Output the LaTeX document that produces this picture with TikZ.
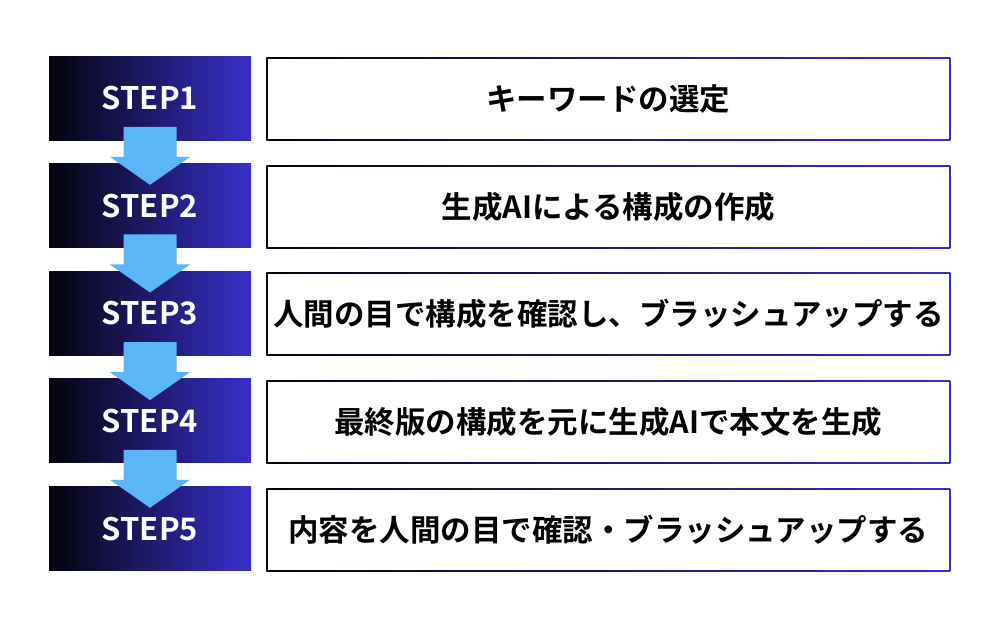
\documentclass[tikz,border=0pt]{standalone}
\usepackage{fontspec}
\usetikzlibrary{positioning,calc}
\newfontfamily\jpfont{Noto Sans CJK JP}[BoldFont={Noto Sans CJK JP Bold}]
\definecolor{stepdark}{RGB}{4,4,12}
\definecolor{stepblue}{RGB}{56,48,202}
\definecolor{arrowblue}{RGB}{90,182,246}

\begin{document}
\begin{tikzpicture}[x=1pt,y=-1pt,
  stepbox/.style={minimum width=202pt,minimum height=84pt,inner sep=0pt,left color=stepdark,right color=stepblue,text=white,font=\jpfont\bfseries\fontsize{31}{31}\selectfont},
  taskframe/.style={minimum width=684pt,minimum height=83pt,inner sep=0pt,left color=stepdark,right color=stepblue},
  taskbox/.style={minimum width=681pt,minimum height=80pt,inner sep=0pt,fill=white,text=black,font=\jpfont\bfseries\fontsize{30.5}{30.5}\selectfont},
  downarrow/.style={fill=arrowblue}]
\useasboundingbox (0,0) rectangle (1000,625);
%Step boxes
\node [stepbox] (step1) at (150,98) {STEP1};
\node [stepbox,below=23.25pt of step1] (step2) {STEP2};
\node [stepbox,below=23.25pt of step2] (step3) {STEP3};
\node [stepbox,below=23.25pt of step3] (step4) {STEP4};
\node [stepbox,below=23.25pt of step4] (step5) {STEP5};
%Task frames (shaded border)
\node [taskframe,right=15pt of step1,yshift=-1pt] (frame1) {};
\node [taskframe,right=15pt of step2,yshift=-1pt] (frame2) {};
\node [taskframe,right=15pt of step3,yshift=-1pt] (frame3) {};
\node [taskframe,right=15pt of step4,yshift=-1pt] (frame4) {};
\node [taskframe,right=15pt of step5,yshift=-1pt] (frame5) {};
% Text Node
\node [taskbox] (task1) at (frame1) {キーワードの選定};
\node [taskbox] (task2) at (frame2) {生成AIによる構成の作成};
\node [taskbox] (task3) at (frame3) {人間の目で構成を確認し、ブラッシュアップする};
\node [taskbox] (task4) at (frame4) {最終版の構成を元に生成AIで本文を生成};
\node [taskbox] (task5) at (frame5) {内容を人間の目で確認・ブラッシュアップする};
%Arrows between steps
\fill [downarrow,shift={($(step1.south)!0.5!(step2.north)$)}] (-26.5,-25) -- (26.5,-25) -- (26.5,5) -- (40,5) -- (0,33) -- (-40,5) -- (-26.5,5) -- cycle;
\fill [downarrow,shift={($(step2.south)!0.5!(step3.north)$)}] (-26.5,-25) -- (26.5,-25) -- (26.5,5) -- (40,5) -- (0,33) -- (-40,5) -- (-26.5,5) -- cycle;
\fill [downarrow,shift={($(step3.south)!0.5!(step4.north)$)}] (-26.5,-25) -- (26.5,-25) -- (26.5,5) -- (40,5) -- (0,33) -- (-40,5) -- (-26.5,5) -- cycle;
\fill [downarrow,shift={($(step4.south)!0.5!(step5.north)$)}] (-26.5,-25) -- (26.5,-25) -- (26.5,5) -- (40,5) -- (0,33) -- (-40,5) -- (-26.5,5) -- cycle;
\end{tikzpicture}
\end{document}
